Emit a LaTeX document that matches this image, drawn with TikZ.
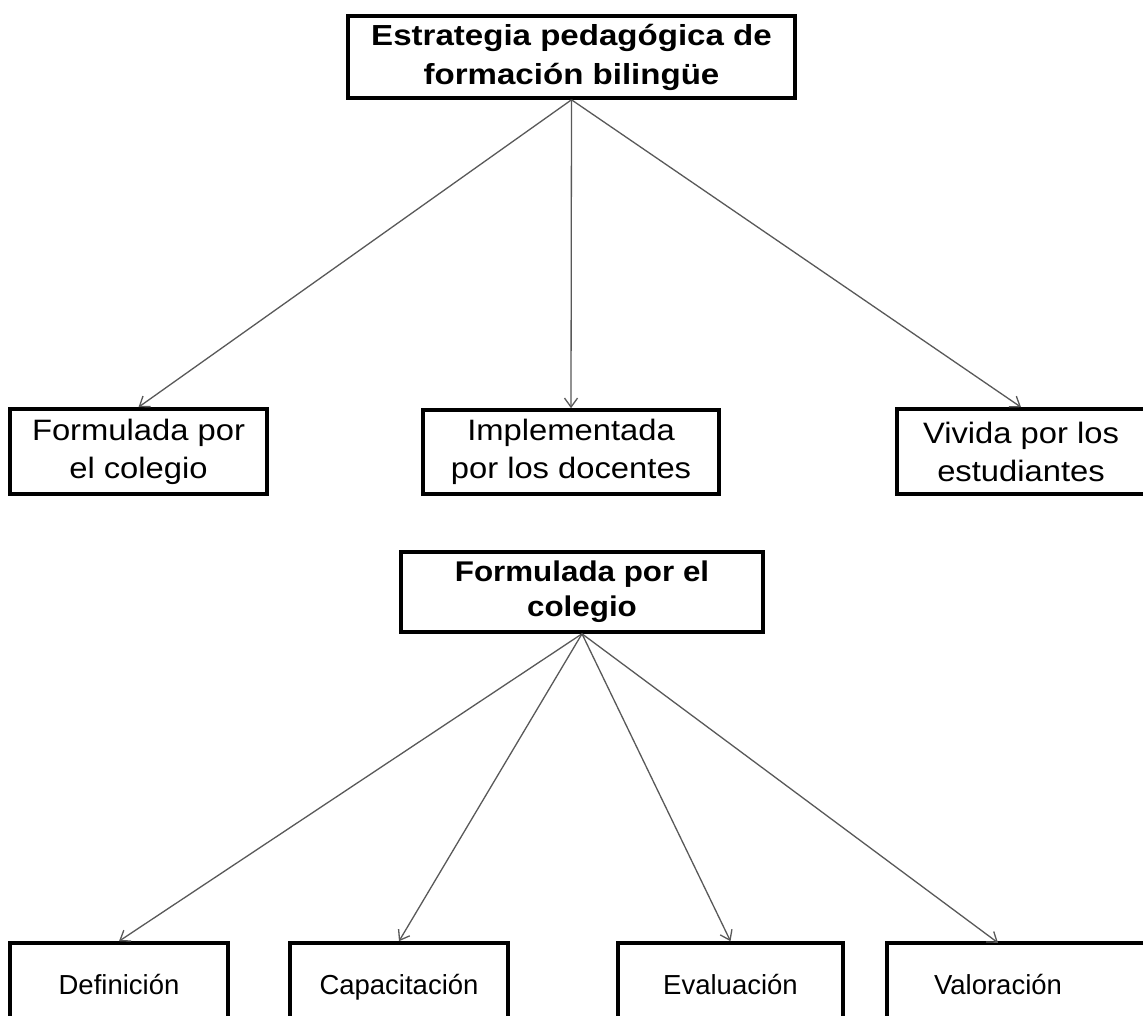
\documentclass[tikz,border=0pt]{standalone}
\usepackage{fontspec}
\setmainfont{Liberation Sans}
\newfontfamily\headfont{Liberation Sans}[FakeStretch=1.14]
\newfontfamily\subheadfont{Liberation Sans}[FakeStretch=1.10]
\newfontfamily\midfont{Liberation Sans}[FakeStretch=1.11]
\usetikzlibrary{arrows.meta}

\begin{document}
\begin{tikzpicture}[x=1pt,y=-1pt,
  frame/.style={draw=black, line width=3.6pt},
  box/.style={frame, fill=white, inner sep=0pt, align=center},
  plainbox/.style={inner sep=0pt, align=center},
  link/.style={draw=black!65, line width=1.3pt,
    -{Straight Barb[length=9pt,width=13pt,line width=1.3pt]}},
  headtxt/.style={font=\headfont\bfseries\fontsize{29}{39}\selectfont},
  subheadtxt/.style={font=\subheadfont\bfseries\fontsize{28.5}{35}\selectfont},
  midtxt/.style={font=\midfont\fontsize{29.5}{38}\selectfont},
  lowtxt/.style={font=\fontsize{27.5}{33}\selectfont, text height=22pt, text depth=4pt},
]
\useasboundingbox (0,0) rectangle (1143,1016);
\fill[white] (0,0) rectangle (1143,1016);

% first tree
\node[box, headtxt, minimum width=447pt, minimum height=82pt] (root) at (571.5,57)
  {Estrategia pedagógica de\\formación bilingüe};
\node[box, midtxt, minimum width=257pt, minimum height=85pt] (col) at (138.5,451.5)
  {Formulada por\\el colegio};
\node[box, midtxt, minimum width=296pt, minimum height=84pt] (imp) at (571,452)
  {Implementada\\por los docentes};
\node[box, midtxt, minimum width=248pt, minimum height=85pt] (est) at (1021,451.5)
  {Vivida por los\\estudiantes};

\draw[link] (root.south) -- (col.north);
\draw[link] (root.south) -- (imp.north);
\draw[link] (root.south) -- (est.north);

% second tree
\node[box, subheadtxt, minimum width=362pt, minimum height=80pt] (form) at (582,592)
  {Formulada por el\\colegio};
\node[box, lowtxt, minimum width=218pt, minimum height=84pt] (def) at (119,985) {Definición};
\node[box, lowtxt, minimum width=218pt, minimum height=84pt] (cap) at (399,985) {Capacitación};
\node[box, lowtxt, minimum width=225pt, minimum height=84pt] (eva) at (730.5,985) {Evaluación};
\node[plainbox, lowtxt, minimum width=222pt, minimum height=84pt] (val) at (998,985) {Valoración};
\draw[frame] (val.north west) rectangle ([xshift=60pt]val.south east);

\draw[link] (form.south) -- (def.north);
\draw[link] (form.south) -- (cap.north);
\draw[link] (form.south) -- (eva.north);
\draw[link] (form.south) -- (val.north);
\end{tikzpicture}
\end{document}
